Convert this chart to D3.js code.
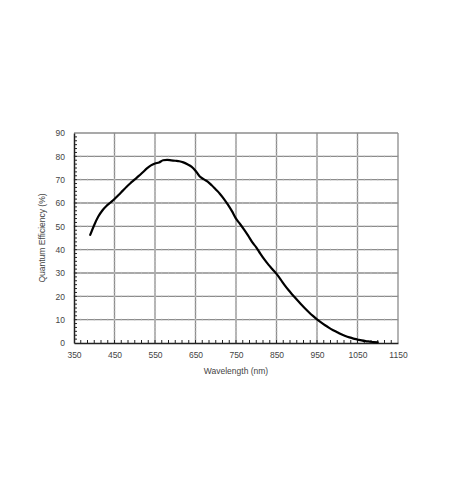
<!DOCTYPE html>
<html><head><meta charset="utf-8">
<script src="https://cdn.jsdelivr.net/npm/d3@7/dist/d3.min.js"></script>
<style>body{margin:0;background:#fff}svg{display:block}text{font-family:"Liberation Sans",Arial,sans-serif}</style>
</head><body><svg id="c" width="450" height="503"></svg>
<script>
const wavelength = [390,400,410,420,430,440,450,460,470,480,490,500,510,520,530,540,550,560,570,580,590,600,610,620,630,640,650,660,670,680,690,700,710,720,730,740,750,760,770,780,790,800,810,820,830,840,850,860,870,880,890,900,910,920,930,940,950,960,970,980,990,1000,1010,1020,1030,1040,1050,1060,1070,1080,1090,1100];
const qe = [46.3,50.6,54.2,56.8,58.7,60.2,61.7,63.4,65.2,67,68.6,70.1,71.6,73.2,74.8,76.1,76.9,77.4,78.3,78.5,78.3,78.1,77.9,77.4,76.6,75.6,73.8,71.5,70.2,69.2,67.6,65.8,64,61.8,59.3,56.5,53.3,51,48.6,46,43.2,41,38.3,35.8,33.6,31.6,29.6,27.3,24.8,22.6,20.6,18.6,16.7,14.9,13.2,11.6,10.1,8.8,7.6,6.5,5.5,4.6,3.7,3.0,2.4,1.9,1.5,1.1,0.8,0.6,0.4,0.3];
const xTicks = [350,450,550,650,750,850,950,1050,1150];
const yTicks = [0,10,20,30,40,50,60,70,80,90];
const xLabel = "Wavelength (nm)";
const yLabel = "Quantum Efficiency (%)";

const svg = d3.select("#c");
const L=74,R=398,T=133,B=343;
const x = d3.scaleLinear().domain([350,1150]).range([L,R]);
const y = d3.scaleLinear().domain([0,90]).range([B,T]);
const g = svg.append("g");

const xMinor = d3.range(350,1150.01,100/6);
const yMinor = d3.range(0,90.01,10/6);

g.selectAll(".vg").data(xTicks.slice(1,-1)).join("line")
  .attr("x1",d=>x(d)).attr("x2",d=>x(d)).attr("y1",T).attr("y2",B)
  .attr("stroke","#8c8c8c").attr("stroke-width",1.3);
g.selectAll(".hg").data(yTicks.slice(1,-1)).join("line")
  .attr("x1",L).attr("x2",R).attr("y1",d=>y(d)).attr("y2",d=>y(d))
  .attr("stroke","#8c8c8c").attr("stroke-width",1.3);
yTicks.slice(1,-1).forEach(v=>{
  g.selectAll(null).data(xMinor).join("line")
   .attr("x1",d=>x(d)).attr("x2",d=>x(d)).attr("y1",y(v)-1.2).attr("y2",y(v)+1.2)
   .attr("stroke","#c4c4c4").attr("stroke-width",0.6);
});
xTicks.slice(1,-1).forEach(v=>{
  g.selectAll(null).data(yMinor).join("line")
   .attr("y1",d=>y(d)).attr("y2",d=>y(d)).attr("x1",x(v)-1.2).attr("x2",x(v)+1.2)
   .attr("stroke","#c4c4c4").attr("stroke-width",0.6);
});
g.append("line").attr("x1",L).attr("x2",R).attr("y1",T).attr("y2",T).attr("stroke","#8c8c8c").attr("stroke-width",1.3);
g.append("line").attr("x1",R).attr("x2",R).attr("y1",T).attr("y2",B).attr("stroke","#8c8c8c").attr("stroke-width",1.3);

const xAxis = d3.axisBottom(x).tickValues(xTicks).tickSize(0).tickPadding(9).tickFormat(d3.format("d"));
const gx = g.append("g").attr("transform",`translate(0,${B})`).call(xAxis);
gx.select(".domain").attr("stroke","#222").attr("stroke-width",1.5);
gx.selectAll("text").attr("fill","#444").style("font-size","8.5px");
const yAxis = d3.axisLeft(y).tickValues(yTicks).tickSize(0).tickPadding(9).tickFormat(d3.format("d"));
const gy = g.append("g").attr("transform",`translate(${L},0)`).call(yAxis);
gy.select(".domain").attr("stroke","#222").attr("stroke-width",1.5);
gy.selectAll("text").attr("fill","#444").style("font-size","8.5px");

g.selectAll(".xm").data(xMinor.slice(1,-1)).join("line")
  .attr("x1",d=>x(d)).attr("x2",d=>x(d)).attr("y1",B).attr("y2",B-3)
  .attr("stroke","#222").attr("stroke-width",1);
g.selectAll(".ym").data(yMinor.slice(1,-1)).join("line")
  .attr("y1",d=>y(d)).attr("y2",d=>y(d)).attr("x1",L).attr("x2",L+3)
  .attr("stroke","#222").attr("stroke-width",1);

svg.append("text").attr("x",(L+R)/2).attr("y",374).attr("text-anchor","middle")
  .attr("fill","#444").style("font-size","8.5px").text(xLabel);
svg.append("text").attr("transform",`translate(45,${(T+B)/2}) rotate(-90)`).attr("text-anchor","middle")
  .attr("fill","#444").style("font-size","8.5px").text(yLabel);

const pts = wavelength.map((w,i)=>[w,qe[i]]);
g.append("path").datum(pts)
  .attr("d",d3.line().x(d=>x(d[0])).y(d=>y(d[1])).curve(d3.curveMonotoneX))
  .attr("fill","none").attr("stroke","#000").attr("stroke-width",2.2)
  .attr("stroke-linejoin","round").attr("stroke-linecap","round");
</script></body></html>
